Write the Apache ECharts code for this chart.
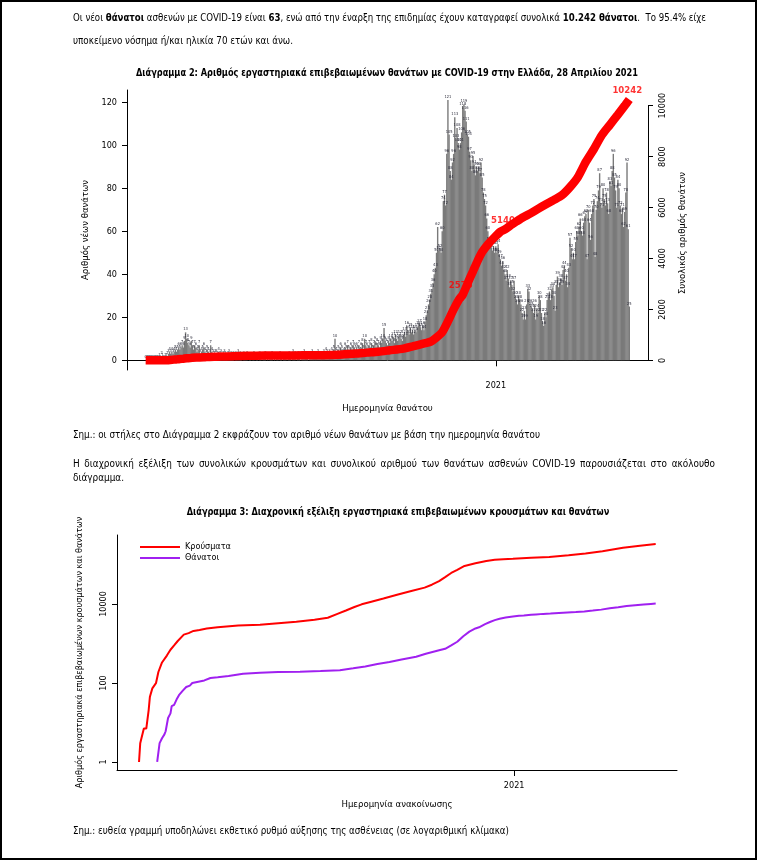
<!DOCTYPE html>
<html><head><meta charset="utf-8">
<script src="https://cdn.jsdelivr.net/npm/echarts@6/dist/echarts.min.js"></script>
<style>
html,body{margin:0;padding:0;background:#fff;}
#page{position:relative;width:757px;height:861px;overflow:hidden;background:#fff;}
#chart{position:absolute;left:0;top:0;width:757px;height:861px;z-index:1;}
.t{position:absolute;z-index:2;font-family:"Liberation Sans Narrow","DejaVu Sans Condensed",sans-serif;font-size:11px;color:#000;white-space:nowrap;line-height:14px;transform-origin:0 50%;}
#frame{position:absolute;left:0;top:0;width:753px;height:856px;border:2px solid #000;z-index:3;pointer-events:none;}
</style></head>
<body><div id="page">
<div id="chart"></div>
<div class="t" data-w="633" style="left:73px;top:11px">Οι νέοι <b>θάνατοι</b> ασθενών με COVID-19 είναι <b>63</b>, ενώ από την έναρξη της επιδημίας έχουν καταγραφεί συνολικά <b>10.242 θάνατοι</b>.&nbsp; Το 95.4% είχε</div>
<div class="t" data-w="220" style="left:73px;top:34px">υποκείμενο νόσημα ή/και ηλικία 70 ετών και άνω.</div>
<div class="t" data-w="467" style="left:73px;top:428px">Σημ.: οι στήλες στο Διάγραμμα 2 εκφράζουν τον αριθμό νέων θανάτων με βάση την ημερομηνία θανάτου</div>
<div class="t" data-w="642" style="left:73px;top:457px;word-spacing:2px">Η διαχρονική εξέλιξη των συνολικών κρουσμάτων και συνολικού αριθμού των θανάτων ασθενών COVID-19 παρουσιάζεται στο ακόλουθο</div>
<div class="t" data-w="51" style="left:73px;top:471px">διάγραμμα.</div>
<div class="t" data-w="436" style="left:73px;top:824px">Σημ.: ευθεία γραμμή υποδηλώνει εκθετικό ρυθμό αύξησης της ασθένειας (σε λογαριθμική κλίμακα)</div>
<div id="frame"></div>
</div>
<script>
// fit body-text lines to their measured widths in the reference
document.querySelectorAll('.t[data-w]').forEach(el=>{
  const w = el.getBoundingClientRect().width;
  const target = +el.dataset.w;
  if (w > 0) el.style.transform = 'scaleX(' + (target/w).toFixed(4) + ')';
});

// ---- Diagram 2: daily deaths by date of death (one array per month) ----
const barsStart = '2020-02-29';
const barsFeb2020 = [0];
const barsMar2020 = [0,0,0,0,0,0,0,0,0,0,0,1,0,2,1,0,1,1,2,3,4,3,4,3,4,5,4,5,6,5,6];
const barsApr2020 = [7,6,9,13,10,8,7,6,9,7,5,7,6,4,5,7,3,4,5,6,4,3,5,4,3,7,4,3,2,3];
const barsMay2020 = [3,2,4,2,3,1,2,3,2,1,2,3,1,2,1,2,0,2,1,3,1,2,1,0,2,1,1,2,0,1,1];
const barsJun2020 = [0,1,2,0,1,1,0,2,1,0,1,1,2,0,1,0,1,1,2,0,1,0,1,1,0,2,1,0,1,1];
const barsJul2020 = [1,0,1,2,1,0,3,1,2,0,1,2,1,0,2,1,3,1,2,1,0,2,1,3,2,1,2,1,3,2,1];
const barsAug2020 = [2,1,3,2,4,3,2,3,2,4,3,5,10,4,3,5,4,6,5,3,4,6,5,7,5,4,6,5,7,6,5];
const barsSep2020 = [6,5,7,4,6,8,5,10,7,6,5,7,6,8,5,7,9,6,8,7,6,9,8,10,15,9,8,7,9,8];
const barsOct2020 = [10,9,11,8,12,10,9,11,12,10,9,12,13,11,16,14,12,15,13,14,12,14,13,15,16,17,15,14,16,14,18];
const barsNov2020 = [21,23,26,28,31,33,36,40,43,50,62,51,52,50,60,74,77,72,96,121,105,88,84,92,96,113,103,108,101,98];
const barsDec2020 = [101,106,118,119,116,111,105,104,97,93,88,95,91,86,90,88,90,87,92,85,78,75,72,66,60,55,53,52,51,53,50];
const barsJan2021 = [53,50,54,49,47,44,46,42,40,37,42,38,34,37,35,32,37,30,28,26,30,28,26,22,19,23,19,26,33,32,26];
const barsFeb2021 = [25,24,22,26,19,24,22,30,28,22,18,16,22,20,28,29,32,28,33,34,30,23,35,39,34,36,38,35];
const barsMar2021 = [42,44,37,40,34,43,57,52,47,50,47,55,60,58,62,66,60,58,64,67,68,47,70,64,56,68,72,75,48,70,74];
const barsApr2021 = [79,87,73,71,80,75,72,78,73,68,83,81,88,96,85,79,71,84,80,72,68,71,62,69,78,92,61,25];

// ---- Cumulative (announced) deaths: red line in Diagram 2, purple line in Diagram 3 ----
const cumDeathDates = ['2020-02-29','2020-03-11','2020-03-12','2020-03-13','2020-03-14','2020-03-16','2020-03-18','2020-03-19','2020-03-20','2020-03-21','2020-03-23','2020-03-24','2020-03-26','2020-03-28','2020-03-30','2020-04-02','2020-04-05','2020-04-08','2020-04-10','2020-04-15','2020-04-20','2020-04-25','2020-05-01','2020-05-10','2020-05-22','2020-06-05','2020-06-20','2020-07-08','2020-07-25','2020-08-10','2020-08-21','2020-08-31','2020-09-10','2020-09-20','2020-09-30','2020-10-12','2020-10-20','2020-10-31','2020-11-05','2020-11-10','2020-11-15','2020-11-20','2020-11-25','2020-11-30','2020-12-03','2020-12-08','2020-12-12','2020-12-16','2020-12-20','2020-12-25','2020-12-31','2021-01-05','2021-01-09','2021-01-15','2021-01-19','2021-01-25','2021-01-31','2021-02-07','2021-02-14','2021-02-21','2021-02-28','2021-03-07','2021-03-14','2021-03-21','2021-03-28','2021-04-04','2021-04-11','2021-04-18','2021-04-24','2021-04-28'];
const cumDeathValues = [0,0,1,1,3,4,5,6,6,13,17,26,28,38,49,63,79,86,100,108,116,134,140,151,171,182,190,192,201,211,236,263,302,338,393,461,548,673,732,893,1106,1527,2000,2406,2575,3100,3500,3900,4250,4550,4838,5050,5140,5330,5450,5620,5760,5950,6130,6300,6485,6800,7200,7800,8300,8850,9250,9650,10000,10242];
// labelled points on the red line
const cumLabelDates = ['2020-12-03','2021-01-09','2021-04-28'];
const cumLabelValues = [2575, 5140, 10242];

// ---- Cumulative cases: Diagram 3 ----
const cumCaseDates = ['2020-02-26','2020-02-27','2020-02-28','2020-03-01','2020-03-03','2020-03-05','2020-03-06','2020-03-08','2020-03-11','2020-03-13','2020-03-16','2020-03-20','2020-03-23','2020-03-26','2020-03-29','2020-04-03','2020-04-07','2020-04-11','2020-04-16','2020-04-22','2020-05-01','2020-05-18','2020-06-05','2020-07-05','2020-07-20','2020-07-31','2020-08-08','2020-08-15','2020-08-22','2020-08-28','2020-09-05','2020-09-15','2020-09-27','2020-10-08','2020-10-19','2020-10-25','2020-10-31','2020-11-05','2020-11-10','2020-11-15','2020-11-21','2020-11-30','2020-12-09','2020-12-16','2020-12-23','2020-12-31','2021-01-15','2021-01-30','2021-02-15','2021-03-01','2021-03-15','2021-04-01','2021-04-15','2021-04-28'];
const cumCaseValues = [1,3,4,7,7,21,45,73,99,190,331,495,695,892,1156,1673,1832,2081,2207,2401,2591,2840,2980,3560,4000,4477,5623,6858,8381,9800,11386,13730,17444,21299,26000,30782,38000,48000,61000,73000,92000,107000,123000,131000,136000,139000,149000,155000,171000,190000,216000,266000,300000,331000];

// ---- Tick labels ----
const leftTicks2 = [0,20,40,60,80,100,120];
const rightTicks2 = [0,2000,4000,6000,8000,10000];
const logTicks3 = [1,100,10000];
const yearTick = '2021-01-01';
const yearLabel = '2021';

const FONT = '"Liberation Sans Narrow","DejaVu Sans Condensed",sans-serif';
const DAY = 86400000;
const t = s => Date.UTC(+s.slice(0,4), +s.slice(5,7)-1, +s.slice(8,10));

const allBars = [].concat(barsFeb2020,barsMar2020,barsApr2020,barsMay2020,barsJun2020,barsJul2020,barsAug2020,barsSep2020,barsOct2020,barsNov2020,barsDec2020,barsJan2021,barsFeb2021,barsMar2021,barsApr2021);
const t0 = t(barsStart);
const barData = allBars.map((v,i)=>[t0 + i*DAY, v]);
const lastBar = t0 + (allBars.length-1)*DAY;

const cumDeaths = cumDeathDates.map((d,i)=>[t(d), cumDeathValues[i]]);
const cumDeathsLog = cumDeaths.filter(p=>p[1]>0);
const cumCases = cumCaseDates.map((d,i)=>[t(d), cumCaseValues[i]]);
const redLabels = cumLabelDates.map((d,i)=>[t(d), cumLabelValues[i]]);

const x2min = t0 - 16.35*DAY, x2max = lastBar + 16.4*DAY;
const x3min = t(cumCaseDates[0]) - 18.2*DAY, x3max = t('2021-04-28') + 17.6*DAY;
const jan1 = t(yearTick);

const axisText = {color:'#000', fontFamily:FONT, fontSize:9};
const blackLine = {show:true, lineStyle:{color:'#000', width:1}};
const nameStyle = {fontFamily:FONT, fontSize:9.5, color:'#000'};
const plain = v => String(Math.round(v));

const chart = echarts.init(document.getElementById('chart'), null, {renderer:'canvas'});
chart.setOption({
  animation:false,
  backgroundColor:'transparent',
  textStyle:{fontFamily:FONT},
  graphic:[
    {type:'text', x:387, y:73, scaleX:0.83, style:{text:'Διάγραμμα 2: Αριθμός εργαστηριακά επιβεβαιωμένων θανάτων με COVID-19 στην Ελλάδα, 28 Απριλίου 2021', font:'bold 11px '+FONT, fill:'#000', textAlign:'center', textVerticalAlign:'middle', align:'center', verticalAlign:'middle'}},
    {type:'text', x:398, y:512, scaleX:0.83, style:{text:'Διάγραμμα 3: Διαχρονική εξέλιξη εργαστηριακά επιβεβαιωμένων κρουσμάτων και θανάτων', font:'bold 11px '+FONT, fill:'#000', textAlign:'center', textVerticalAlign:'middle', align:'center', verticalAlign:'middle'}}
  ],
  grid:[
    {left:127, right:109, top:90, bottom:491},
    {left:127, right:109, top:105.7, bottom:500.7},
    {left:117, right:80, top:535, bottom:91}
  ],
  legend:{
    data:['Κρούσματα','Θάνατοι'], orient:'vertical', left:135, top:537,
    icon:'rect', itemWidth:40, itemHeight:2, itemGap:1,
    textStyle:{fontSize:9, fontFamily:FONT, color:'#000', lineHeight:10}
  },
  xAxis:[
    {gridIndex:0, type:'value', min:x2min, max:x2max, scale:true,
     axisLine:blackLine, splitLine:{show:false},
     axisTick:{show:true, customValues:[jan1], length:6, lineStyle:{color:'#000'}},
     axisLabel:Object.assign({customValues:[jan1], formatter:()=>yearLabel, margin:11}, axisText),
     name:'Ημερομηνία θανάτου', nameLocation:'middle', nameGap:34, nameTextStyle:nameStyle},
    {gridIndex:1, type:'value', min:x2min, max:x2max, scale:true, show:false},
    {gridIndex:2, type:'value', min:x3min, max:x3max, scale:true,
     axisLine:blackLine, splitLine:{show:false},
     axisTick:{show:true, customValues:[jan1], length:6, lineStyle:{color:'#000'}},
     axisLabel:Object.assign({customValues:[jan1], formatter:()=>yearLabel, margin:11}, axisText),
     name:'Ημερομηνία ανακοίνωσης', nameLocation:'middle', nameGap:30, nameTextStyle:nameStyle}
  ],
  yAxis:[
    {gridIndex:0, type:'value', min:-4.51, max:125.7,
     axisLine:blackLine, splitLine:{show:false},
     axisTick:{show:true, customValues:leftTicks2, length:5, lineStyle:{color:'#000'}},
     axisLabel:Object.assign({customValues:leftTicks2, margin:10, formatter:plain}, axisText),
     name:'Αριθμός νέων θανάτων', nameLocation:'middle', nameRotate:90, nameGap:34, nameTextStyle:nameStyle},
    {gridIndex:1, type:'value', position:'right', min:0, max:10000,
     axisLine:blackLine, splitLine:{show:false},
     axisTick:{show:true, customValues:rightTicks2, length:5, lineStyle:{color:'#000'}},
     axisLabel:Object.assign({customValues:rightTicks2, rotate:90, margin:10, formatter:plain}, axisText),
     name:'Συνολικός αριθμός θανάτων', nameLocation:'middle', nameRotate:90, nameGap:30, nameTextStyle:nameStyle},
    {gridIndex:2, type:'log', logBase:10, min:0.627, max:558000,
     axisLine:blackLine, splitLine:{show:false}, minorTick:{show:false},
     axisTick:{show:true, customValues:logTicks3, length:5, lineStyle:{color:'#000'}},
     axisLabel:Object.assign({customValues:logTicks3, rotate:90, margin:9, formatter:plain}, axisText),
     name:'Αριθμός εργαστηριακά επιβεβαιωμένων κρουσμάτων και θανάτων', nameLocation:'middle', nameRotate:90, nameGap:33, nameTextStyle:{fontFamily:FONT, fontSize:9, color:'#000'}}
  ],
  series:[
    {type:'bar', name:'bars', xAxisIndex:0, yAxisIndex:0, data:barData, barWidth:1.4,
     itemStyle:{color:'#7a7a7a'}, z:1,
     label:{show:true, position:'top', distance:1, fontSize:4, color:'#2b2b3a', fontFamily:FONT}},
    {type:'scatter', name:'redlabels', xAxisIndex:1, yAxisIndex:1, data:redLabels, symbolSize:0, clip:false, z:2,
     label:{show:true, position:'top', distance:4, offset:[-2,0], color:'#ff0000', fontWeight:'bold', fontSize:9.5, fontFamily:FONT, formatter:p=>String(p.value[1])}},
    {type:'line', name:'cum', xAxisIndex:1, yAxisIndex:1, data:cumDeaths, symbol:'none', showSymbol:false, clip:false, z:10,
     smooth:0.25,
     lineStyle:{color:'#ff0000', width:8.5}},
    {type:'line', name:'Κρούσματα', xAxisIndex:2, yAxisIndex:2, data:cumCases, symbol:'none', color:'#ff0000',
     lineStyle:{color:'#ff0000', width:2}},
    {type:'line', name:'Θάνατοι', xAxisIndex:2, yAxisIndex:2, data:cumDeathsLog, symbol:'none', color:'#a020f0',
     lineStyle:{color:'#a020f0', width:2}}
  ]
});
</script>
</body></html>
